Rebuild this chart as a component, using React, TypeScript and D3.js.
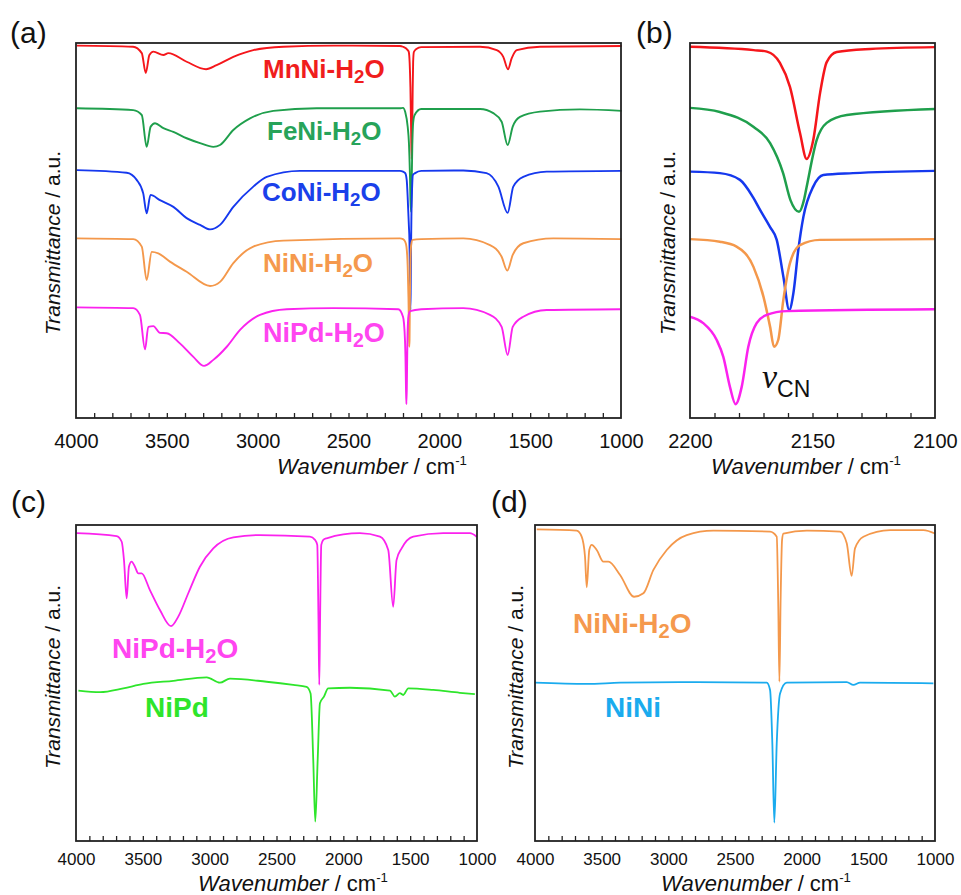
import React, { useEffect, useRef } from 'react';
import * as d3 from 'd3';

type Pt = [number, number]; // [wavenumber cm-1, transmittance a.u.]

const FONT = "'Liberation Sans', Arial, Helvetica, sans-serif";

// ---- panel (a)/(b): five hydrated samples, shared vertical scale ----
const seriesNames = ['MnNi-H2O', 'FeNi-H2O', 'CoNi-H2O', 'NiNi-H2O', 'NiPd-H2O'];
const seriesColors = ['#f5161b', '#1f9f4c', '#1538ee', '#f4984b', '#fb22ee'];
const labelColors = ['#f01d1d', '#27a35a', '#1a40ea', '#f5994d', '#ff45f0'];

// full range spectra (outside the CN window)
const mnNiWide: Pt[] = [
  [3996, 99.3], [3686, 99.0], [3638, 97.3], [3616, 92.0], [3596, 96.8], [3574, 97.7],
  [3519, 96.8], [3492, 97.3], [3391, 95.0], [3284, 93.0], [3226, 94.1], [3134, 96.3],
  [3024, 98.1], [2859, 99.0], [2585, 99.3], [2217, 99.2], [1776, 99.0], [1684, 98.1],
  [1648, 96.3], [1622, 93.0], [1602, 95.9], [1574, 98.1], [1446, 99.0], [996, 99.2],
];
const feNiWide: Pt[] = [
  [3996, 82.6], [3685, 82.1], [3638, 80.8], [3611, 72.3], [3589, 77.7], [3565, 78.6],
  [3519, 77.3], [3464, 76.3], [3391, 74.6], [3317, 73.3], [3244, 72.3], [3207, 72.8],
  [3134, 76.8], [3042, 79.9], [2914, 81.9], [2675, 82.6], [2217, 82.6], [2051, 82.4],
  [1776, 82.4], [1703, 81.3], [1657, 79.0], [1624, 72.8], [1596, 77.7], [1556, 80.3],
  [1446, 81.7], [1226, 82.3], [996, 81.9],
];
const coNiWide: Pt[] = [
  [3996, 66.1], [3721, 65.4], [3666, 63.5], [3630, 59.9], [3611, 54.6], [3590, 59.5],
  [3538, 58.1], [3464, 56.3], [3391, 53.3], [3317, 51.5], [3262, 50.3], [3207, 51.5],
  [3134, 56.3], [3024, 61.7], [2950, 64.3], [2767, 65.9], [2217, 65.9], [1868, 66.0],
  [1740, 65.3], [1675, 61.7], [1624, 54.7], [1593, 61.7], [1538, 64.3], [1409, 65.7],
  [996, 65.9],
];
const niNiWide: Pt[] = [
  [3996, 47.9], [3685, 47.7], [3638, 45.7], [3611, 36.8], [3583, 44.3], [3547, 43.9],
  [3483, 41.7], [3391, 39.0], [3262, 35.2], [3207, 36.3], [3134, 41.3], [3024, 45.7],
  [2859, 47.3], [2217, 47.9], [1868, 47.9], [1721, 46.1], [1657, 43.0], [1626, 39.3],
  [1596, 43.5], [1538, 46.6], [1373, 47.9], [996, 47.7],
];
const niPdWide: Pt[] = [
  [3996, 29.5], [3685, 29.3], [3648, 27.5], [3620, 18.3], [3602, 24.3], [3574, 24.5],
  [3538, 22.7], [3501, 22.6], [3428, 19.9], [3354, 16.3], [3295, 13.9], [3244, 15.5],
  [3170, 19.0], [3097, 23.5], [2987, 27.5], [2840, 29.0], [2584, 29.3], [2226, 29.0],
  [1868, 29.3], [1721, 27.5], [1657, 24.3], [1624, 16.8], [1596, 24.3], [1538, 27.0],
  [1409, 28.8], [1005, 29.0],
];

// CN stretching window 2200-2100 cm-1
const mnNiCN: Pt[] = [
  [2200, 99.0], [2174, 98.1], [2168.6, 97.7], [2163.3, 94.7], [2159.2, 88.3], [2155.1, 76.0],
  [2152.4, 69.1], [2149.7, 74.1], [2146.9, 86.7], [2144.2, 94.9], [2140.1, 97.6],
  [2126.5, 98.4], [2100, 98.9],
];
const feNiCN: Pt[] = [
  [2200, 82.7], [2187.8, 81.6], [2174, 77.6], [2167.3, 73.3], [2162, 65.3], [2159, 58.1],
  [2155.5, 55.0], [2153.5, 58.1], [2152.4, 61.6], [2148.3, 74.1], [2144.2, 78.7],
  [2136, 80.8], [2100, 82.4],
];
const coNiCN: Pt[] = [
  [2200, 65.7], [2187.8, 65.3], [2179.6, 63.5], [2174.3, 58.9], [2171.4, 55.5], [2167.3, 50.9],
  [2164.6, 47.5], [2161.9, 37.7], [2159.5, 28.8], [2157.8, 33.3], [2155.8, 44.8],
  [2153.7, 53.7], [2149.7, 61.7], [2145.6, 64.8], [2133.5, 65.3], [2100, 65.9],
];
const niNiCN: Pt[] = [
  [2200, 47.7], [2187.8, 47.0], [2181, 45.7], [2174.1, 40.3], [2170, 32.3], [2167.3, 24.3],
  [2165.7, 19.0], [2164, 20.8], [2161.9, 31.5], [2159.2, 41.3], [2155.1, 46.1],
  [2147, 47.5], [2100, 47.7],
];
const niPdCN: Pt[] = [
  [2200, 27.0], [2194.6, 25.3], [2189.1, 20.8], [2186.4, 16.3], [2183.7, 8.3], [2181.4, 3.7],
  [2178.9, 8.3], [2176.2, 19.0], [2172.8, 25.3], [2168.7, 27.5], [2160.5, 28.5], [2100, 29.0],
];

const wideSpectra = [mnNiWide, feNiWide, coNiWide, niNiWide, niPdWide];
const cnSpectra = [mnNiCN, feNiCN, coNiCN, niNiCN, niPdCN];

// ---- panel (c): NiPd hydrated vs dry ----
const niPdH2OFull: Pt[] = [
  [3995, 97.4], [3696, 96.5], [3658, 94.7], [3641, 88.9], [3621, 76.8], [3604, 86.8],
  [3584, 88.4], [3559, 86.8], [3534, 84.7], [3509, 84.7], [3447, 79.4], [3372, 73.1],
  [3289, 68.0], [3235, 71.0], [3160, 78.4], [3073, 86.8], [2973, 92.6], [2823, 96.1],
  [2624, 96.8], [2250, 96.3], [2212, 95.3], [2195, 93.7], [2186, 70.0], [2180, 49.4],
  [2174, 70.0], [2165, 93.7], [2150, 95.3], [2125, 95.8], [1876, 97.4], [1726, 96.3],
  [1664, 92.1], [1627, 74.1], [1602, 88.9], [1564, 92.6], [1477, 96.3], [1253, 97.4],
  [1053, 97.4], [1003, 96.3],
];
const niPdDry: Pt[] = [
  [3982, 47.6], [3820, 47.1], [3646, 48.3], [3497, 49.7], [3272, 50.7], [3022, 51.8],
  [2923, 50.1], [2848, 51.4], [2574, 50.4], [2375, 49.4], [2275, 48.8], [2245, 46.7],
  [2225, 25.6], [2210, 6.1], [2192, 25.6], [2175, 43.6], [2145, 45.7], [2113, 48.3],
  [1951, 48.5], [1651, 47.6], [1614, 45.7], [1577, 46.8], [1552, 46.2], [1514, 48.3],
  [1327, 47.8], [1128, 46.9], [1016, 46.5],
];

// ---- panel (d): NiNi hydrated vs dry ----
const niNiH2OFull: Pt[] = [
  [3987, 98.6], [3687, 98.2], [3650, 96.3], [3625, 90.0], [3612, 80.3], [3593, 92.1],
  [3575, 93.7], [3537, 92.1], [3487, 88.4], [3450, 88.4], [3362, 84.2], [3257, 77.3],
  [3187, 78.4], [3112, 85.8], [3012, 92.1], [2862, 96.8], [2662, 98.2], [2237, 97.9],
  [2187, 96.3], [2176, 76.0], [2167, 50.4], [2158, 76.0], [2147, 95.3], [2137, 97.3],
  [1962, 98.2], [1712, 97.9], [1662, 94.2], [1625, 83.9], [1600, 92.6], [1537, 96.3],
  [1337, 98.4], [1087, 98.4], [1000, 97.3],
];
const niNiDry: Pt[] = [
  [4000, 50.1], [3612, 49.7], [3362, 50.1], [2912, 50.3], [2262, 50.1], [2237, 47.8],
  [2220, 30.9], [2205, 5.8], [2187, 30.9], [2162, 46.7], [2112, 50.1], [1662, 50.3],
  [1612, 49.4], [1562, 50.1], [1012, 49.9],
];

const wideTicks = [4000, 3500, 3000, 2500, 2000, 1500, 1000];
const cnTicks = [2200, 2150, 2100];

type Box = { left: number; right: number; top: number; bottom: number };
type Line = { pts: Pt[]; color: string };

function Chem({ name }: { name: string }) {
  // renders e.g. "NiNi-H2O" with a subscript 2
  const i = name.indexOf('H2O');
  if (i < 0) return <>{name}</>;
  return (
    <>
      {name.slice(0, i)}H
      <tspan fontSize="72%" dy={5}>2</tspan>
      <tspan dy={-5}>O</tspan>
    </>
  );
}

function Panel(props: {
  box: Box;
  xDomain: [number, number];
  minorStep: number;
  majors: number[];
  tickFont: number;
  tickPad: number;
  lines: Line[];
  strokeWidth: number;
  xTitle: [number, number];
  yTitle: [number, number];
  letter: string;
  letterPos: [number, number];
  children?: React.ReactNode;
}) {
  const { box, xDomain, minorStep, majors, tickFont, tickPad, lines, strokeWidth } = props;
  const tickRef = useRef<SVGGElement>(null);
  const labelRef = useRef<SVGGElement>(null);

  const x = d3.scaleLinear().domain(xDomain).range([box.left, box.right]);
  const y = d3.scaleLinear().domain([0, 100]).range([box.bottom, box.top]);
  const line = d3
    .line<Pt>()
    .x(d => x(d[0]))
    .y(d => y(d[1]))
    .curve(d3.curveMonotoneX);

  useEffect(() => {
    const hi = Math.max(...xDomain);
    const lo = Math.min(...xDomain);
    const minor: number[] = [];
    for (let v = lo + minorStep; v < hi - minorStep / 2; v += minorStep) minor.push(Math.round(v));

    const tg = d3.select(tickRef.current);
    tg.selectAll('*').remove();
    tg.call(d3.axisBottom(x).tickValues(minor).tickSize(-5).tickFormat(() => ''));
    tg.selectAll('.domain').remove();
    tg.selectAll('line').attr('stroke', '#222').attr('stroke-width', 1.3);

    const lg = d3.select(labelRef.current);
    lg.selectAll('*').remove();
    lg.call(d3.axisBottom(x).tickValues(majors).tickSize(0).tickPadding(tickPad).tickFormat(d3.format('d')));
    lg.selectAll('.domain').remove();
    lg.selectAll('text')
      .attr('font-size', tickFont)
      .attr('font-family', FONT)
      .attr('fill', '#111');
  }, []);

  return (
    <g>
      <text x={props.letterPos[0]} y={props.letterPos[1]} fontSize={30} fontFamily={FONT} fill="#111">
        {props.letter}
      </text>
      {lines.map((l, i) => (
        <path key={i} d={line(l.pts) || ''} fill="none" stroke={l.color} strokeWidth={strokeWidth} strokeLinejoin="round" />
      ))}
      <rect
        x={box.left}
        y={box.top}
        width={box.right - box.left}
        height={box.bottom - box.top}
        fill="none"
        stroke="#222"
        strokeWidth={1.8}
      />
      <g ref={tickRef} transform={`translate(0,${box.bottom})`} />
      <g ref={labelRef} transform={`translate(0,${box.bottom})`} />
      <text x={props.xTitle[0]} y={props.xTitle[1]} fontSize={22} fontFamily={FONT} fill="#111" textAnchor="middle">
        <tspan fontStyle="italic">Wavenumber</tspan> / cm
        <tspan fontSize="60%" dy={-9}>-1</tspan>
      </text>
      <text
        transform={`translate(${props.yTitle[0]},${props.yTitle[1]}) rotate(-90)`}
        fontSize={21}
        fontFamily={FONT}
        fill="#111"
        textAnchor="middle"
      >
        <tspan fontStyle="italic">Transmittance</tspan> / a.u.
      </text>
      {props.children}
    </g>
  );
}

const mergeCN = (wide: Pt[], cn: Pt[]): Pt[] =>
  wide
    .filter(p => p[0] > 2200 || p[0] < 2100)
    .concat(cn)
    .sort((a, b) => b[0] - a[0]);

const labelPosA: [number, number, number][] = [
  [263, 78, 26],
  [267, 140, 26],
  [262, 201, 26],
  [263, 272, 26],
  [263, 342, 27],
];

export default function App() {
  const boxA = { left: 76, right: 621, top: 43, bottom: 418 };
  const boxB = { left: 690, right: 935, top: 43, bottom: 418 };
  const boxC = { left: 76, right: 477, top: 525, bottom: 841 };
  const boxD = { left: 535, right: 935, top: 525, bottom: 841 };

  const linesA = seriesNames.map((_, i) => ({ pts: mergeCN(wideSpectra[i], cnSpectra[i]), color: seriesColors[i] }));
  const linesB = seriesNames.map((_, i) => ({ pts: cnSpectra[i], color: seriesColors[i] }));

  return (
    <svg width={961} height={895} style={{ position: 'absolute', left: 0, top: 0, background: '#fff' }}>
      <Panel
        box={boxA}
        xDomain={[4000, 1000]}
        minorStep={100}
        majors={wideTicks}
        tickFont={20}
        tickPad={16}
        lines={linesA}
        strokeWidth={1.9}
        xTitle={[372, 474]}
        yTitle={[60, 243]}
        letter="(a)"
        letterPos={[10, 43]}
      >
        {seriesNames.map((n, i) => (
          <text
            key={n}
            x={labelPosA[i][0]}
            y={labelPosA[i][1]}
            fontSize={labelPosA[i][2]}
            fontWeight="bold"
            fontFamily={FONT}
            fill={labelColors[i]}
          >
            <Chem name={n} />
          </text>
        ))}
      </Panel>
      <Panel
        box={boxB}
        xDomain={[2200, 2100]}
        minorStep={10}
        majors={cnTicks}
        tickFont={20}
        tickPad={16}
        lines={linesB}
        strokeWidth={2.5}
        xTitle={[806, 474]}
        yTitle={[675, 243]}
        letter="(b)"
        letterPos={[636, 43]}
      >
        <text x={762} y={388} fill="#111">
          <tspan fontFamily="'Liberation Serif', 'Times New Roman', serif" fontStyle="italic" fontSize={34}>
            ν
          </tspan>
          <tspan fontFamily={FONT} fontSize={23} dy={9}>
            CN
          </tspan>
        </text>
      </Panel>
      <Panel
        box={boxC}
        xDomain={[4000, 1000]}
        minorStep={100}
        majors={wideTicks}
        tickFont={17}
        tickPad={12}
        lines={[
          { pts: niPdH2OFull, color: seriesColors[4] },
          { pts: niPdDry, color: '#2ee52b' },
        ]}
        strokeWidth={1.8}
        xTitle={[293, 891]}
        yTitle={[60, 677]}
        letter="(c)"
        letterPos={[11, 512]}
      >
        <text x={112} y={658} fontSize={28} fontWeight="bold" fontFamily={FONT} fill={labelColors[4]}>
          <Chem name="NiPd-H2O" />
        </text>
        <text x={145} y={717} fontSize={28} fontWeight="bold" fontFamily={FONT} fill="#2ee52b">
          NiPd
        </text>
      </Panel>
      <Panel
        box={boxD}
        xDomain={[4000, 1000]}
        minorStep={100}
        majors={wideTicks}
        tickFont={17}
        tickPad={12}
        lines={[
          { pts: niNiH2OFull, color: seriesColors[3] },
          { pts: niNiDry, color: '#1aabee' },
        ]}
        strokeWidth={1.8}
        xTitle={[756, 891]}
        yTitle={[523, 677]}
        letter="(d)"
        letterPos={[491, 512]}
      >
        <text x={573} y={633} fontSize={28} fontWeight="bold" fontFamily={FONT} fill={labelColors[3]}>
          <Chem name="NiNi-H2O" />
        </text>
        <text x={605} y={717} fontSize={28} fontWeight="bold" fontFamily={FONT} fill="#1aabee">
          NiNi
        </text>
      </Panel>
    </svg>
  );
}
